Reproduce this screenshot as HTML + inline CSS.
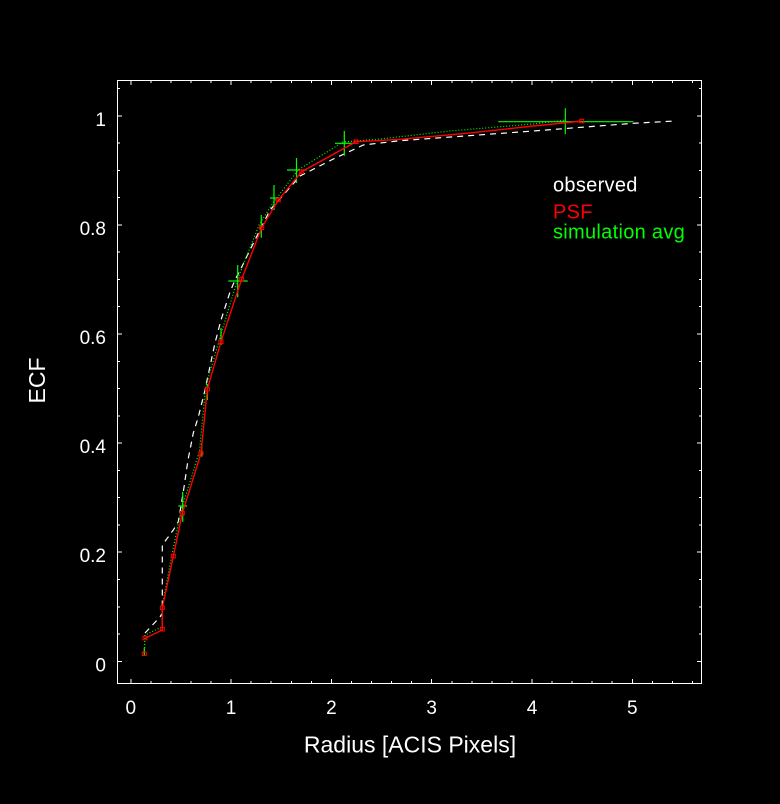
<!DOCTYPE html>
<html>
<head>
<meta charset="utf-8">
<style>
  html, body { margin:0; padding:0; background:#000; }
  body { width:780px; height:804px; overflow:hidden; }
  svg { display:block; }
  text { font-family: "Liberation Sans", "DejaVu Sans", sans-serif; }
</style>
</head>
<body>
<svg width="780" height="804" viewBox="0 0 780 804" xmlns="http://www.w3.org/2000/svg">
  <rect x="0" y="0" width="780" height="804" fill="#000"/>

  <!-- axes box -->
  <rect x="117.5" y="80.5" width="584" height="603" fill="none" stroke="#fff" stroke-width="1" shape-rendering="crispEdges"/>

  <!-- ticks -->
  <g stroke="#fff" stroke-width="1" shape-rendering="crispEdges">
    <path d="M130.8 683.5V679 M231.1 683.5V679 M331.4 683.5V679 M431.7 683.5V679 M532 683.5V679 M632.3 683.5V679
             M130.8 80.5V85 M231.1 80.5V85 M331.4 80.5V85 M431.7 80.5V85 M532 80.5V85 M632.3 80.5V85"/>
    <path d="M150.9 683.5V681 M170.9 683.5V681 M191 683.5V681 M211 683.5V681 M251.2 683.5V681 M271.2 683.5V681 M291.3 683.5V681 M311.3 683.5V681
             M351.5 683.5V681 M371.5 683.5V681 M391.6 683.5V681 M411.6 683.5V681 M451.8 683.5V681 M471.8 683.5V681 M491.9 683.5V681 M511.9 683.5V681
             M552.1 683.5V681 M572.1 683.5V681 M592.2 683.5V681 M612.2 683.5V681 M652.4 683.5V681 M672.4 683.5V681 M692.5 683.5V681
             M150.9 80.5V83 M170.9 80.5V83 M191 80.5V83 M211 80.5V83 M251.2 80.5V83 M271.2 80.5V83 M291.3 80.5V83 M311.3 80.5V83
             M351.5 80.5V83 M371.5 80.5V83 M391.6 80.5V83 M411.6 80.5V83 M451.8 80.5V83 M471.8 80.5V83 M491.9 80.5V83 M511.9 80.5V83
             M552.1 80.5V83 M572.1 80.5V83 M592.2 80.5V83 M612.2 80.5V83 M652.4 80.5V83 M672.4 80.5V83 M692.5 80.5V83"/>
    <path d="M117.5 661.3H122 M117.5 552.2H122 M117.5 443.1H122 M117.5 334H122 M117.5 224.9H122 M117.5 115.8H122
             M701.5 661.3H697 M701.5 552.2H697 M701.5 443.1H697 M701.5 334H697 M701.5 224.9H697 M701.5 115.8H697"/>
    <path d="M117.5 634H120 M117.5 606.8H120 M117.5 579.5H120 M117.5 524.9H120 M117.5 497.6H120 M117.5 470.4H120
             M117.5 415.8H120 M117.5 388.6H120 M117.5 361.3H120 M117.5 306.7H120 M117.5 279.5H120 M117.5 252.2H120
             M117.5 197.7H120 M117.5 170.4H120 M117.5 143.1H120 M117.5 88.6H120
             M701.5 634H699 M701.5 606.8H699 M701.5 579.5H699 M701.5 524.9H699 M701.5 497.6H699 M701.5 470.4H699
             M701.5 415.8H699 M701.5 388.6H699 M701.5 361.3H699 M701.5 306.7H699 M701.5 279.5H699 M701.5 252.2H699
             M701.5 197.7H699 M701.5 170.4H699 M701.5 143.1H699 M701.5 88.6H699"/>
  </g>

  <!-- y tick labels -->
  <g fill="#fff" font-size="19" text-anchor="end">
    <text x="106" y="671.3">0</text>
    <text x="106" y="562.2">0.2</text>
    <text x="106" y="453.1">0.4</text>
    <text x="106" y="344">0.6</text>
    <text x="106" y="234.9">0.8</text>
    <text x="106" y="125.8">1</text>
  </g>
  <!-- x tick labels -->
  <g fill="#fff" font-size="19" text-anchor="middle">
    <text x="130.8" y="714">0</text>
    <text x="231.1" y="714">1</text>
    <text x="331.4" y="714">2</text>
    <text x="431.7" y="714">3</text>
    <text x="532" y="714">4</text>
    <text x="632.3" y="714">5</text>
  </g>

  <!-- axis labels -->
  <text x="410" y="752.5" fill="#fff" font-size="23" text-anchor="middle">Radius [ACIS Pixels]</text>
  <text x="0" y="0" fill="#fff" font-size="23" text-anchor="middle" transform="translate(45,380.5) rotate(-90)">ECF</text>

  <!-- legend -->
  <text x="553" y="191.7" fill="#fff" font-size="20" letter-spacing="0.3">observed</text>
  <text x="553" y="218.3" fill="#ff0000" font-size="20" letter-spacing="0.3">PSF</text>
  <text x="553" y="238.3" fill="#00ff00" font-size="20" letter-spacing="0.3">simulation avg</text>

  <!-- observed: white dashed -->
  <polyline fill="none" stroke="#fff" stroke-width="1.2" stroke-dasharray="6 5"
    points="145,633 160,617 162.3,613 162.3,545 173.3,530 178.3,521.7 183.3,492 188,460 193.3,433 198.3,417 204.3,393 215,343 221,320 230,292 235,280 241.7,267 250,250 258.3,233.3 265,220 270,210 300,176 333.3,159 363.3,145 400,140.7 533.3,131 633.3,123.3 675,121"/>

  <!-- simulation avg: green dotted -->
  <polyline fill="none" stroke="#00ff00" stroke-width="1.2" stroke-dasharray="1 2"
    points="144.3,654 145,635 162.3,626.7 162.3,606 172,554 181,511 199.5,451 205.5,388 219.5,339 238,278 259.5,224 273,203 298,170 343,142 380,139 450,131 533,124 566,120"/>

  <!-- simulation error bars -->
  <g stroke="#00ff00" stroke-width="1.2" fill="none">
    <path d="M144.3 648V656"/>
    <path d="M162.3 608V628.5"/>
    <path d="M182.7 491.7V521.7 M178.3 506H187"/>
    <path d="M201.7 443V456.7"/>
    <path d="M207.3 384V400"/>
    <path d="M221 328V345"/>
    <path d="M237.7 265V297.3 M228.3 281H247.7"/>
    <path d="M261.3 215V237.7"/>
    <path d="M274 185V210 M270 198H279"/>
    <path d="M296.5 158V183 M287 170H306.7"/>
    <path d="M344.3 131V155.7 M335 143.3H355"/>
    <path d="M565.3 108.3V134.3 M498.3 121.7H633.3"/>
  </g>

  <!-- PSF: red solid -->
  <polyline fill="none" stroke="#ff0000" stroke-width="1.4"
    points="145,638.3 162.3,630 162.3,607.7 173.3,556.3 182.3,513.3 201,453.3 207.3,389.3 221,341.7 241.7,279 261.7,227.7 278.3,200 301.7,171.7 356,141.7 376.7,140.7 400,139.3 466.7,133.3 533.3,126 566.7,122.7 581.7,121"/>

  <!-- PSF markers -->
  <g stroke="#ff0000" stroke-width="1" fill="none">
    <rect x="142.3" y="652" width="4" height="3.5"/>
    <rect x="143" y="636.3" width="4" height="3.5"/>
    <rect x="160.3" y="627.5" width="4" height="3.5"/>
    <rect x="160.3" y="606" width="4" height="3.5"/>
    <rect x="171.3" y="554.5" width="4" height="3.5"/>
    <rect x="180.3" y="511.5" width="4" height="3.5"/>
    <rect x="199" y="451.5" width="4" height="3.5"/>
    <rect x="205.3" y="387.5" width="4" height="3.5"/>
    <rect x="219" y="340" width="4" height="3.5"/>
    <rect x="239.7" y="277.3" width="4" height="3.5"/>
    <rect x="259.7" y="226" width="4" height="3.5"/>
    <rect x="276.3" y="198.3" width="4" height="3.5"/>
    <rect x="299.7" y="170" width="4" height="3.5"/>
    <rect x="354" y="140" width="4" height="3.5"/>
    <rect x="579.7" y="119.3" width="4" height="3.5"/>
  </g>
</svg>
</body>
</html>
